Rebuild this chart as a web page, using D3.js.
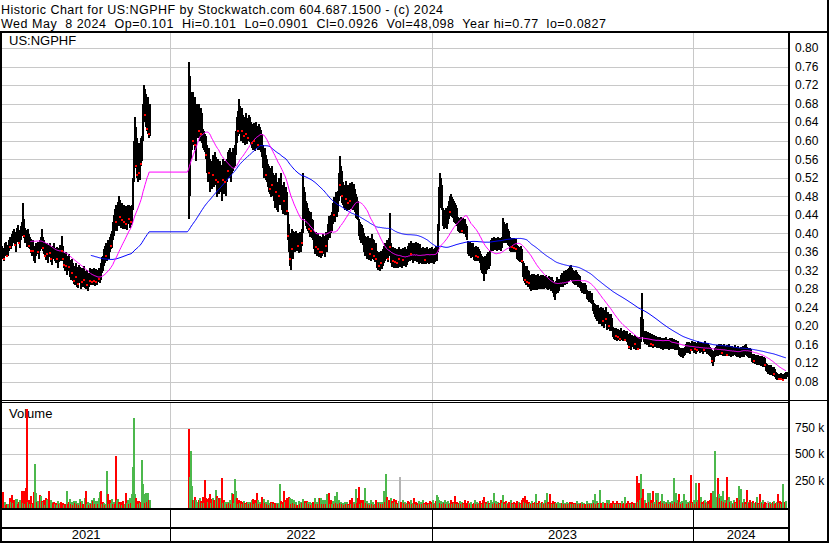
<!DOCTYPE html>
<html>
<head>
<meta charset="utf-8">
<script src="https://cdn.jsdelivr.net/npm/d3@7"></script>
<style>
  body { margin: 0; background: #fff; }
  svg { display: block; }
  text { font-family: Arial, "Liberation Sans", sans-serif; fill: #000; }
</style>
</head>
<body>
<div id="chart"></div>
<script>
// daily bars, prices in thousandths of a dollar, volume in thousands of shares
// trading stopped between the halt dates, the arrays skip those days
var firstDay = new Date(2021, 4, 12), lastDay = new Date(2024, 4, 8);
var haltFrom = new Date(2021, 11, 6), haltTo = new Date(2022, 0, 26);

var hi = [
  372,368,365,378,382,370,375,385,392,390, 398,405,410,402,395,412,418,408,398,415,
  425,465,430,412,408,402,410,398,392,388, 380,385,372,368,378,382,375,385,392,410,
  392,385,380,372,378,368,375,380,370,362, 372,378,368,365,370,360,368,375,372,395,
  372,358,352,360,345,350,355,342,338,345, 335,330,325,335,328,320,332,328,318,325,
  322,330,318,312,320,305,315,325,318,322, 318,325,315,322,312,320,326,318,335,348,
  352,365,372,380,375,385,378,392,398,405, 425,440,452,460,445,468,480,472,458,465,
  455,462,450,458,448,460,462,452,458,462, 520,600,650,630,605,580,595,585,605,610,
  680,720,712,700,690,695,675,680,
  // after the halt
  770,740,700,705,705,680,695,670,680,675, 680,665,670,660,625,620,615,610,590,575,
  585,560,555,570,560,575,565,550,560,545, 555,548,535,560,545,555,540,560,575,580,
  585,570,575,585,580,590,620,650,665,690, 675,660,670,655,650,645,660,640,648,655,
  650,640,635,630,638,625,640,632,628,636, 630,622,615,590,575,585,570,560,550,545,
  540,535,545,530,525,515,530,510,505,520, 512,530,505,498,510,495,500,490,445,420,
  400,395,410,405,402,395,405,398,400,395, 402,398,410,530,500,490,470,465,455,448,
  440,445,430,428,405,398,402,392,400,388, 395,385,392,398,395,388,402,398,420,438,
  430,440,445,465,478,470,490,485,492,530, 567,545,535,510,505,500,513,498,505,495,
  508,500,510,495,507,495,485,478,470,430, 425,420,418,412,400,395,392,388,395,385,
  390,382,398,388,385,378,380,362,358,360, 355,362,358,365,372,380,385,378,390,444,
  380,365,370,362,368,360,365,358,370,362, 366,360,368,364,370,362,366,372,378,375,
  384,378,372,380,376,382,374,378,370,376, 368,365,370,362,368,364,370,366,362,368,
  365,370,366,362,368,372,370,420,500,530, 520,505,455,450,448,455,450,458,470,480,
  485,478,475,470,465,460,455,435,432,430, 435,428,432,425,430,420,415,384,380,382,
  378,375,380,370,368,372,365,370,366,362, 355,350,348,345,350,345,355,360,358,362,
  385,390,388,392,388,390,386,392,388,390, 386,392,433,425,420,415,422,410,405,392,
  388,390,386,390,385,388,375,372,370,368, 372,365,340,335,330,325,330,320,318,310,
  305,312,308,313,305,310,306,312,308,305, 310,306,310,304,308,310,306,304,308,306,
  302,305,300,295,290,298,305,298,302,310, 315,312,318,315,320,318,322,325,330,332,
  325,320,318,315,320,316,312,310,308,295, 293,292,290,292,288,278,276,274,275,270,
  272,255,250,248,245,240,245,238,235,240, 232,238,228,235,240,225,230,225,220,225,
  218,197,195,192,196,190,194,192,188,195, 190,186,192,188,185,190,182,178,185,175,
  180,178,175,180,172,176,170,175,172,220, 270,215,190,185,188,182,186,180,184,178,
  182,176,180,175,178,174,177,172,175,170, 173,170,174,172,175,170,172,168,173,170,
  174,170,172,168,170,166,168,155,152,150, 153,148,152,155,160,165,162,166,160,164,
  168,165,162,166,160,164,168,165,162,166, 163,160,164,167,164,160,163,158,155,152,
  147,140,145,152,155,158,155,160,157,162, 158,155,160,157,154,158,156,160,156,153,
  157,154,158,155,152,156,153,150,154,152, 156,153,158,160,155,152,150,153,150,140,
  138,140,136,138,135,138,134,136,132,135, 130,133,130,120,118,115,116,112,115,112,
  110,112,108,100,98,97,96,95,98,96, 94,97,99,100,101
];

var lo = [
  350,345,340,350,360,348,352,362,368,365, 372,378,385,372,360,382,392,378,368,385,
  395,398,390,378,382,370,385,368,365,358, 352,358,340,335,350,355,345,362,365,370,
  362,355,348,342,350,335,348,352,338,332, 345,350,340,335,342,325,338,348,340,355,
  340,325,318,328,310,318,322,305,300,312, 298,290,288,300,285,282,295,292,280,288,
  285,295,282,280,285,276,285,292,288,290, 288,295,287,292,288,295,298,292,300,315,
  318,330,335,345,340,352,345,360,365,368, 385,395,405,418,405,420,415,425,412,420,
  410,418,410,415,408,420,425,412,418,420, 450,510,560,540,520,510,530,515,545,555,
  600,640,650,630,620,615,605,610,
  // after the halt
  430,480,560,580,600,590,580,555,620,605, 615,600,610,595,585,580,575,560,530,510,
  525,490,495,515,500,520,505,478,500,485, 500,490,470,505,485,500,480,510,525,520,
  540,510,530,535,540,545,570,595,610,615, 620,600,610,595,600,590,605,592,600,605,
  598,590,585,580,590,578,595,585,580,588, 580,575,565,540,520,530,515,510,500,490,
  485,478,495,480,470,455,480,450,445,470, 460,475,450,442,460,440,450,440,385,360,
  330,320,355,345,365,360,370,362,368,358, 365,360,372,400,440,430,415,410,405,400,
  392,398,390,385,365,355,362,350,360,348, 355,347,352,360,355,348,365,360,385,395,
  390,400,405,420,430,425,440,435,445,470, 490,480,465,460,455,450,465,448,458,450,
  460,452,462,450,455,445,432,430,428,395, 385,380,378,375,360,352,350,345,355,342,
  350,340,358,345,342,338,340,325,320,322, 318,328,322,330,335,340,345,338,350,360,
  335,328,335,325,332,325,330,325,338,328, 332,325,335,330,336,328,332,338,342,340,
  348,342,336,345,340,346,338,342,334,340, 335,334,338,334,336,334,340,336,334,338,
  335,340,336,334,338,342,340,360,405,460, 455,450,415,410,412,418,410,420,430,438,
  445,435,432,425,422,420,415,405,402,400, 405,400,402,398,400,392,385,355,350,352,
  347,348,350,342,340,345,340,342,340,335, 320,315,312,297,315,312,320,325,322,330,
  362,365,362,368,364,366,362,368,364,366, 362,368,380,385,380,378,385,375,372,362,
  360,365,360,364,360,362,345,342,340,338, 342,335,305,298,292,288,290,283,285,280,
  276,282,278,284,278,280,277,282,280,280, 284,280,285,280,282,285,280,278,282,280,
  276,278,270,262,255,268,275,270,275,285, 288,285,290,288,292,290,295,298,300,302,
  298,292,290,288,292,288,285,283,282,275, 272,270,268,272,268,258,255,252,254,250,
  248,232,225,220,215,210,212,205,205,210, 200,205,195,205,210,192,198,194,190,195,
  190,175,172,170,175,168,172,170,168,174, 170,168,172,168,168,165,158,150,160,148,
  155,155,150,158,148,152,147,152,150,165, 185,175,165,160,162,158,160,155,160,155,
  158,153,156,155,156,153,155,152,155,150, 152,148,152,150,154,150,152,148,153,150,
  154,150,152,148,150,147,148,138,135,132, 135,130,134,138,142,145,142,146,140,145,
  148,145,142,146,140,144,148,145,142,146, 143,140,144,147,144,140,143,138,135,132,
  120,113,122,132,135,138,135,140,137,140, 138,135,140,136,134,136,135,140,136,133,
  136,134,137,135,132,136,133,130,134,132, 135,133,137,138,135,132,130,133,130,122,
  120,122,118,120,116,118,115,117,113,115, 112,114,111,102,100,97,98,95,96,93,
  92,94,90,85,84,83,84,83,85,84, 83,85,86,86,90.1
];

var cl = [
  358,352,345,372,365,350,370,378,370,385, 380,400,392,375,388,405,398,380,392,410,
  402,420,395,405,388,380,390,372,385,362, 370,362,348,362,372,360,368,380,372,385,
  368,378,352,365,355,360,370,358,345,355, 365,358,348,360,345,352,362,355,368,362,
  345,332,340,330,322,345,328,318,325,315, 322,298,318,305,312,290,325,300,308,295,
  315,300,290,305,288,298,310,298,312,295, 305,298,310,295,305,315,302,312,330,325,
  345,338,365,352,370,378,375,385,372,395, 415,405,448,425,415,430,460,435,450,428,
  445,425,440,420,442,455,430,448,425,455, 500,575,580,545,525,540,530,560,550,590,
  650,690,655,670,625,660,615,640,
  // after the halt
  600,640,650,652,600,620,590,610,630,640, 620,635,615,630,600,610,590,570,545,560,
  530,510,545,525,550,535,515,530,510,535, 520,505,525,515,540,510,530,550,535,570,
  550,560,540,575,555,580,610,640,620,670, 635,650,620,640,610,630,615,625,605,640,
  610,625,595,620,600,615,605,625,590,615, 595,610,580,560,535,570,525,545,515,535,
  495,520,505,510,485,500,490,470,495,480, 500,510,465,480,470,455,490,448,395,375,
  345,380,365,390,375,388,380,392,372,385, 375,390,380,470,485,445,455,425,440,410,
  430,405,420,395,380,390,370,385,365,378, 360,375,360,390,365,380,372,392,410,405,
  425,412,435,450,440,465,455,475,460,520, 505,530,480,495,470,490,475,485,465,480,
  470,490,475,460,490,460,470,445,440,405, 415,390,400,385,375,385,360,375,365,370,
  355,372,365,380,350,365,345,340,350,330, 345,335,350,340,360,350,375,345,380,370,
  345,355,340,350,338,352,335,348,345,355, 355,350,342,355,345,352,340,360,350,368,
  355,370,345,372,350,365,348,370,350,362, 345,355,348,358,342,356,350,360,345,355,
  342,360,348,352,345,365,355,410,480,495, 470,490,425,440,420,445,430,450,460,445,
  475,450,465,440,455,430,445,420,428,410, 425,405,422,408,418,400,395,370,360,375,
  355,368,358,355,360,350,358,348,355,345, 335,340,325,320,335,330,345,350,340,355,
  375,380,370,385,372,382,370,388,375,382, 372,385,410,395,410,390,405,385,380,375,
  380,370,378,368,375,365,360,350,362,345, 355,340,315,325,300,310,295,305,292,295,
  290,300,285,305,290,302,285,298,290,295, 300,288,302,290,298,292,300,288,296,290,
  285,295,280,285,265,290,282,292,295,300, 305,295,310,298,312,300,315,305,320,310,
  318,300,312,295,305,298,300,292,296,285, 280,288,275,285,275,265,270,258,268,255,
  260,240,245,230,235,220,238,215,225,232, 222,210,218,228,215,205,222,200,212,205,
  198,185,180,188,178,185,175,182,172,185, 175,180,178,170,178,172,165,155,178,160,
  170,165,168,160,155,170,150,165,160,200, 215,185,175,170,178,165,175,162,172,160,
  170,158,168,162,170,160,165,160,168,158, 165,155,168,160,170,158,165,155,168,160,
  165,155,168,158,162,152,160,145,148,140, 150,138,145,150,155,150,158,152,155,148,
  160,152,158,150,155,148,162,155,150,160, 152,155,148,160,152,155,148,150,142,138,
  125,130,138,145,148,150,140,152,145,155, 142,150,148,152,140,138,145,155,142,148,
  150,140,152,145,148,142,140,148,146,149, 150,142,152,145,150,138,145,140,135,130,
  135,125,130,132,122,130,120,128,118,125, 120,128,115,110,105,108,108,105,110,98,
  102,96,100,90,88,95,85,90,86,92, 84,90,95,92,92.6
];

var vol = [
  100,135,30,40,15,20,25,10,80,40, 110,30,60,20,70,70,25,40,60,15,
  150,30,150,20,180,930,40,60,20,100, 25,30,140,410,130,40,50,20,110,100,
  50,40,60,15,80,60,70,150,20,60, 40,30,40,20,30,15,50,20,30,40,
  20,30,10,20,15,150,20,40,70,20, 40,10,50,30,50,20,30,15,70,40,
  50,20,15,80,150,20,40,10,30,20, 60,50,80,20,50,50,20,80,140,150,
  20,40,30,15,20,340,120,20,60,30, 70,20,40,20,480,60,70,40,20,40,
  15,50,20,130,30,60,20,80,30,120, 380,840,120,80,50,20,50,30,40,445,
  215,120,30,130,40,130,60,60,
  // after the halt
  740,280,530,200,60,60,90,60,40,20, 60,80,50,30,90,30,250,80,70,40,
  80,120,30,70,80,60,30,155,100,80, 80,30,80,270,30,60,40,40,20,40,
  30,60,20,130,120,30,260,150,80,20, 60,30,50,20,40,50,30,20,40,40,
  20,40,30,60,70,20,60,30,125,60, 20,40,20,90,20,70,30,40,20,60,
  15,30,40,30,40,20,30,15,30,20, 30,210,50,20,40,145,40,60,80,20,
  90,80,20,70,30,60,20,40,15,50, 20,40,30,70,20,50,30,50,40,20,
  40,15,30,40,20,80,20,40,20,80, 80,80,20,60,20,60,20,120,30,130,
  20,60,20,50,20,100,30,140,20,60, 30,40,20,30,15,40,20,40,20,15,
  60,20,80,30,40,20,170,30,80,190, 20,60,30,60,20,180,30,50,20,30,
  15,60,20,40,15,20,60,20,40,30, 40,20,40,20,150,40,310,90,60,60,
  40,80,50,30,70,40,60,20,30,50, 280,40,20,60,30,40,20,30,50,20,
  40,60,20,30,80,20,40,15,30,50, 20,40,20,60,30,20,40,15,30,20,
  50,20,40,60,20,30,50,110,90,60, 30,50,20,40,30,60,20,40,50,20,
  30,60,20,40,30,100,20,40,20,30, 50,20,40,30,20,60,30,20,50,30,
  20,40,20,30,60,20,40,20,30,50, 30,20,60,90,30,40,20,50,30,20,
  60,40,20,130,30,50,20,40,30,20, 60,30,110,40,20,50,30,20,40,20,
  60,30,20,40,20,30,50,20,40,30, 20,60,80,40,100,30,60,20,40,30,
  20,50,30,20,40,120,30,20,50,30, 20,40,30,20,60,30,130,40,20,120,
  30,20,50,20,40,30,20,40,20,30, 20,30,60,20,30,20,40,20,30,40,
  20,40,20,30,20,30,50,20,30,20, 30,40,20,30,20,20,55,20,30,20,
  30,20,65,30,115,20,50,30,20,155, 30,20,40,20,30,20,65,30,65,20,
  30,20,55,20,30,20,55,20,30,20, 30,50,20,30,90,20,30,55,20,30,
  20,45,20,30,20,30,290,40,225,60, 307,80,163,40,60,30,130,40,130,60,
  30,145,40,20,130,60,130,40,20,50, 120,30,50,20,40,30,60,20,40,30,
  50,20,270,40,130,30,60,115,40,20, 50,30,115,40,60,20,40,30,50,300,
  30,40,60,20,227,40,60,227,30,90, 40,20,50,60,30,40,50,20,60,130,
  80,145,60,528,90,60,269,115,80,100, 50,145,40,60,30,280,60,90,40,50,
  30,20,60,40,30,80,40,200,60,165, 40,30,70,40,20,155,40,30,60,20,
  40,50,30,20,40,90,30,20,115,40, 30,60,20,40,30,20,50,30,40,20,
  30,40,50,20,30,40,115,30,50,20, 40,210,30,40,48.1
];

var priceTicks = [0.08,0.12,0.16,0.20,0.24,0.28,0.32,0.36,0.40,0.44,0.48,0.52,0.56,0.60,0.64,0.68,0.72,0.76,0.80];
var volTicks = [250000, 500000, 750000];
var titleLine1 = "Historic Chart for US:NGPHF by Stockwatch.com 604.687.1500 - (c) 2024";
var titleLine2 = "Wed May  8 2024  Op=0.101  Hi=0.101  Lo=0.0901  Cl=0.0926  Vol=48,098  Year hi=0.77  lo=0.0827";
var symbol = "US:NGPHF";

var width = 830, height = 543;
var left = 2, right = 789;

// one slot per weekday, trading days take the next bar from the arrays
var days = [];
for (var d = new Date(firstDay); d <= lastDay; d.setDate(d.getDate() + 1)) {
  if (d.getDay() !== 0 && d.getDay() !== 6) days.push(new Date(d));
}
var bars = [];
days.forEach(function(day, s) {
  if (day >= haltFrom && day <= haltTo) return;
  var k = bars.length;
  bars.push({slot: s, hi: hi[k] / 1000, lo: lo[k] / 1000, cl: cl[k] / 1000,
    vol: vol[k] * 1000, prev: k ? cl[k - 1] / 1000 : null});
});

function movingAvg(n) {
  var out = [];
  bars.forEach(function(b, k) {
    if (k < n - 1) return;
    var sum = 0;
    for (var j = k - n + 1; j <= k; j++) sum += bars[j].cl;
    // hold the value flat across the halt
    if (out.length && b.slot - bars[k - 1].slot > 1)
      out.push({slot: b.slot - 1, v: out[out.length - 1].v});
    out.push({slot: b.slot, v: sum / n});
  });
  return out;
}

var yearStarts = [];
days.forEach(function(day, s) {
  if (s > 0 && day.getFullYear() !== days[s - 1].getFullYear()) yearStarts.push(s);
});

var x = d3.scaleLinear().domain([0, days.length - 1]).range([1.3, 785.8]);
var y = d3.scaleLinear().domain([0.08, 0.80]).range([381.5, 48]);
var yv = d3.scaleLinear().domain([0, 1000000]).range([506.5, 401.7]);

var svg = d3.select('#chart').append('svg')
  .attr('width', width)
  .attr('height', height);

svg.append('rect').attr('width', width).attr('height', height).attr('fill', '#fff');

// header
svg.append('text').attr('x', 1).attr('y', 14).style('font-size', '12.5px')
  .style('white-space', 'pre').attr('textLength', 442).text(titleLine1);
svg.append('text').attr('x', 1).attr('y', 28).style('font-size', '12.5px')
  .style('white-space', 'pre').attr('textLength', 605).text(titleLine2);

// grid
function gridLines(g) {
  g.select('.domain').remove();
  g.selectAll('line').attr('stroke', '#c8c8c8');
}
var grid = svg.append('g').attr('shape-rendering', 'crispEdges');
grid.append('g').attr('transform', 'translate(' + left + ',0)')
  .call(d3.axisRight(y).tickValues(priceTicks).tickSize(right - left).tickFormat(''))
  .call(gridLines);
grid.append('g').attr('transform', 'translate(' + left + ',0)')
  .call(d3.axisRight(yv).tickValues(volTicks).tickSize(right - left).tickFormat(''))
  .call(gridLines);
grid.append('g').attr('transform', 'translate(0,32)')
  .call(d3.axisBottom(x).tickValues(yearStarts).tickSize(368).tickFormat(''))
  .call(gridLines);
grid.append('g').attr('transform', 'translate(0,403)')
  .call(d3.axisBottom(x).tickValues(yearStarts).tickSize(106).tickFormat(''))
  .call(gridLines);

// labels inside panels
svg.append('text').attr('x', 9).attr('y', 45).style('font-size', '13px').text(symbol);
svg.append('text').attr('x', 9).attr('y', 418).style('font-size', '13px').text('Volume');

// volume bars
svg.append('g').attr('shape-rendering', 'crispEdges')
  .selectAll('rect').data(bars.filter(function(b) { return b.vol > 0; })).enter().append('rect')
  .attr('x', function(b) { return x(b.slot) - 0.5; })
  .attr('width', 2)
  .attr('y', function(b) { return yv(b.vol); })
  .attr('height', function(b) { return yv(0) - yv(b.vol) + 1; })
  .attr('fill', function(b) {
    if (b.prev === null || b.cl === b.prev) return '#b4b4b4';
    return b.cl > b.prev ? '#4cb84c' : '#ff0000';
  });

// price bars
svg.append('g').attr('shape-rendering', 'crispEdges')
  .selectAll('rect').data(bars).enter().append('rect')
  .attr('x', function(b) { return Math.round(x(b.slot)); })
  .attr('width', 2)
  .attr('y', function(b) { return y(b.hi); })
  .attr('height', function(b) { return Math.max(1, y(b.lo) - y(b.hi)); })
  .attr('fill', '#000');

// moving averages
var line = d3.line().x(function(p) { return x(p.slot); }).y(function(p) { return y(p.v); });
svg.append('path').datum(movingAvg(90)).attr('d', line)
  .attr('fill', 'none').attr('stroke', '#0000ff').attr('stroke-width', 1);
svg.append('path').datum(movingAvg(30)).attr('d', line)
  .attr('fill', 'none').attr('stroke', '#ff00ff').attr('stroke-width', 1);

// closes that finish near the low of a down day
svg.append('g').attr('shape-rendering', 'crispEdges')
  .selectAll('rect').data(bars.filter(function(b) {
    return b.prev !== null && b.cl < b.prev && (b.cl - b.lo) <= 0.22 * (b.hi - b.lo);
  })).enter().append('rect')
  .attr('x', function(b) { return Math.round(x(b.slot)); })
  .attr('y', function(b) { return y(b.cl) - 1; })
  .attr('width', 2).attr('height', 2)
  .attr('fill', '#ff0000');

// right hand axes
function axisText(g) {
  g.select('.domain').remove();
  g.selectAll('text').style('font-size', '12px').attr('fill', '#000');
}
svg.append('g').attr('transform', 'translate(790,0)')
  .call(d3.axisRight(y).tickValues(priceTicks).tickSize(0).tickPadding(5).tickFormat(d3.format('.2f')))
  .call(axisText);
svg.append('g').attr('transform', 'translate(790,0)')
  .call(d3.axisRight(yv).tickValues(volTicks).tickSize(0).tickPadding(5)
    .tickFormat(function(v) { return (v / 1000) + ' k'; }))
  .call(axisText);

// frame
var frame = svg.append('g').attr('fill', '#000').attr('shape-rendering', 'crispEdges');
frame.append('rect').attr('x', 0).attr('y', 31).attr('width', 829).attr('height', 2);
frame.append('rect').attr('x', 827).attr('y', 0).attr('width', 2).attr('height', height);
frame.append('rect').attr('x', 0).attr('y', 31).attr('width', 2).attr('height', height - 31);
frame.append('rect').attr('x', 788).attr('y', 31).attr('width', 2).attr('height', height - 31);
frame.append('rect').attr('x', 0).attr('y', 400).attr('width', 829).attr('height', 1);
frame.append('rect').attr('x', 0).attr('y', 402).attr('width', 790).attr('height', 1);
frame.append('rect').attr('x', 0).attr('y', 508).attr('width', 790).attr('height', 2);
frame.append('rect').attr('x', 0).attr('y', 527).attr('width', 790).attr('height', 2);
frame.append('rect').attr('x', 0).attr('y', 541).attr('width', 829).attr('height', 2);

// year strip
var yearAxis = svg.append('g').attr('transform', 'translate(0,510)')
  .call(d3.axisBottom(x).tickValues(yearStarts).tickSize(31).tickFormat(''));
yearAxis.select('.domain').remove();
yearAxis.selectAll('line').attr('stroke', '#000').attr('shape-rendering', 'crispEdges');

var bounds = [0].concat(yearStarts).concat([days.length - 1]);
var yearLabels = [];
for (var i = 0; i < bounds.length - 1; i++) {
  var a = i === 0 ? left : x(bounds[i]);
  var b = i === bounds.length - 2 ? right : x(bounds[i + 1]);
  yearLabels.push({x: (a + b) / 2, label: days[bounds[i]].getFullYear()});
}
svg.append('g').selectAll('text').data(yearLabels).enter().append('text')
  .attr('x', function(p) { return p.x; })
  .attr('y', 539)
  .attr('text-anchor', 'middle')
  .style('font-size', '13px')
  .text(function(p) { return p.label; });
</script>
</body>
</html>
